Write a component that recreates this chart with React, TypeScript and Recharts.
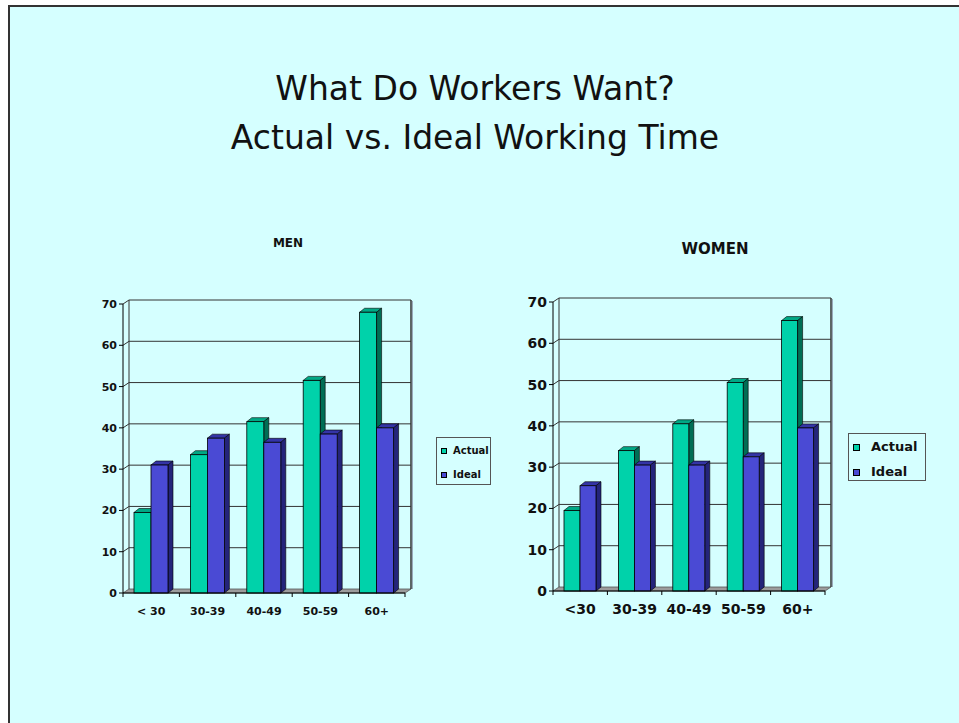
import { BarChart, Bar, XAxis, YAxis, CartesianGrid, Legend } from 'recharts';

const menCategories = ['< 30', '30-39', '40-49', '50-59', '60+'];
const menActual = [19.5, 33.5, 41.5, 51.5, 68];
const menIdeal = [31, 37.5, 36.5, 38.5, 40];

const womenCategories = ['<30', '30-39', '40-49', '50-59', '60+'];
const womenActual = [19.5, 34, 40.5, 50.5, 65.5];
const womenIdeal = [25.5, 30.5, 30.5, 32.5, 39.5];

const yTicks = [0, 10, 20, 30, 40, 50, 60, 70];
const seriesNames = ['Actual', 'Ideal'];

const FONT = '"DejaVu Sans", Verdana, sans-serif';
const BG = '#D5FFFF';
const ACTUAL = { front: '#00D2AA', top: '#00A885', side: '#006E55' };
const IDEAL = { front: '#4A4AD4', top: '#3434A6', side: '#24247A' };
const DX = 6;
const DY = 4;

const menData = menCategories.map((c, i) => ({ cat: c, Actual: menActual[i], Ideal: menIdeal[i] }));
const womenData = womenCategories.map((c, i) => ({ cat: c, Actual: womenActual[i], Ideal: womenIdeal[i] }));

function bar3D(col: { front: string; top: string; side: string }) {
  return (props: any) => {
    const { x, y, width: w, height: h } = props;
    if (!h || h <= 0) return <g />;
    const dx = 5;
    return (
      <g>
        <polygon
          points={`${x},${y} ${x + dx},${y - DY} ${x + w + dx},${y - DY} ${x + w},${y}`}
          fill={col.top}
          stroke="#000"
          strokeWidth={0.6}
        />
        <polygon
          points={`${x + w},${y} ${x + w + dx},${y - DY} ${x + w + dx},${y + h - DY} ${x + w},${y + h}`}
          fill={col.side}
          stroke="#000"
          strokeWidth={0.6}
        />
        <rect x={x} y={y} width={w} height={h} fill={col.front} stroke="#000" strokeWidth={0.8} />
      </g>
    );
  };
}

function wallLine(props: any) {
  const { x1, y1, x2, y2 } = props;
  const top = props.y;
  const bottom = props.y + props.height;
  const left = props.x;
  const right = props.x + props.width;
  if (Math.abs(y1 - bottom) < 0.5) {
    return (
      <g key={props.key}>
        <polygon
          points={`${x1},${y1} ${x2},${y2} ${x2 + DX},${y2 - DY} ${x1 + DX},${y1 - DY}`}
          fill="#9C9C9C"
          stroke="#555"
          strokeWidth={0.8}
        />
      </g>
    );
  }
  return (
    <g key={props.key}>
      <polyline
        points={`${x1},${y1} ${x1 + DX},${y1 - DY} ${x2 + DX},${y2 - DY}`}
        fill="none"
        stroke="#333"
        strokeWidth={1}
      />
      {Math.abs(y1 - top) < 0.5 && (
        <g>
          <line x1={left + DX} y1={top - DY} x2={left + DX} y2={bottom - DY} stroke="#333" strokeWidth={1} />
          <line x1={right + DX} y1={top - DY} x2={right + DX} y2={bottom - DY} stroke="#333" strokeWidth={1.5} />
          <line x1={right + DX + 1.5} y1={top - DY + 1} x2={right + DX + 1.5} y2={bottom - DY} stroke="#9AB" strokeWidth={1} />
        </g>
      )}
    </g>
  );
}

function catTick(fontSize: number, below: number, count: number) {
  return (props: any) => {
    const { x, y, payload, index, width } = props;
    const band = width / count;
    return (
      <g>
        <line x1={x - band / 2} y1={y} x2={x - band / 2} y2={y + 4} stroke="#000" />
        {index === count - 1 && <line x1={x + band / 2} y1={y} x2={x + band / 2} y2={y + 4} stroke="#000" />}
        <text x={x} y={y + below} textAnchor="middle" fontSize={fontSize} fontWeight="bold" fontFamily={FONT} fill="#111">
          {payload.value}
        </text>
      </g>
    );
  };
}

function valTick(fontSize: number) {
  return (props: any) => {
    const { x, y, payload } = props;
    return (
      <text x={x} y={y} dy="0.36em" textAnchor="end" fontSize={fontSize} fontWeight="bold" fontFamily={FONT} fill="#111">
        {payload.value}
      </text>
    );
  };
}

function legendBox(w: number, h: number, fontSize: number, sq: number, rows: number[], textX: number) {
  return () => (
    <div style={{ position: 'relative', width: w, height: h, boxSizing: 'border-box', border: '1.5px solid #555', fontFamily: FONT }}>
      {seriesNames.map((name, i) => (
        <div key={name}>
          <div
            style={{
              position: 'absolute',
              left: 4,
              top: rows[i] - sq / 2,
              width: sq,
              height: sq,
              boxSizing: 'border-box',
              border: '1px solid #000',
              background: i === 0 ? ACTUAL.front : IDEAL.front,
            }}
          />
          <div
            style={{
              position: 'absolute',
              left: textX,
              top: rows[i] - fontSize * 0.62,
              fontSize,
              fontWeight: 'bold',
              lineHeight: `${fontSize * 1.2}px`,
              color: '#111',
              whiteSpace: 'nowrap',
            }}
          >
            {name}
          </div>
        </div>
      ))}
    </div>
  );
}

interface PanelProps {
  data: any[];
  count: number;
  width: number;
  marginRight: number;
  yWidth: number;
  fontSize: number;
  below: number;
  barSize: number;
  gap: number;
  legend: () => any;
  legendPos: { left: number; top: number };
}

function Panel({ data, count, width, marginRight, yWidth, fontSize, below, barSize, gap, legend, legendPos }: PanelProps) {
  return (
    <BarChart
      width={width}
      height={335}
      data={data}
      margin={{ top: 14, right: marginRight, left: 0, bottom: 10 }}
      barGap={0}
      barCategoryGap={gap}
    >
      <CartesianGrid vertical={false} horizontal={wallLine} />
      <XAxis
        dataKey="cat"
        height={22}
        tickLine={false}
        tickSize={0}
        tickMargin={0}
        axisLine={{ stroke: '#000' }}
        tick={catTick(fontSize, below, count)}
        interval={0}
      />
      <YAxis
        width={yWidth}
        domain={[0, 70]}
        ticks={yTicks}
        interval={0}
        tickSize={4}
        tickLine={{ stroke: '#000' }}
        axisLine={{ stroke: '#000' }}
        tick={valTick(fontSize)}
      />
      <Legend layout="vertical" align="right" verticalAlign="middle" content={legend} wrapperStyle={legendPos} />
      <Bar dataKey="Actual" barSize={barSize} shape={bar3D(ACTUAL)} isAnimationActive={false} />
      <Bar dataKey="Ideal" barSize={barSize} shape={bar3D(IDEAL)} isAnimationActive={false} />
    </BarChart>
  );
}

export default function App() {
  return (
    <div style={{ position: 'absolute', left: 0, top: 0, width: 959, height: 723, background: '#fff', overflow: 'hidden', fontFamily: FONT }}>
      <div
        style={{
          position: 'absolute',
          left: 8,
          top: 5,
          width: 980,
          height: 740,
          background: BG,
          borderLeft: '2px solid #333',
          borderTop: '2px solid #333',
        }}
      />
      <div style={{ position: 'absolute', left: 0, width: 950, top: 64, textAlign: 'center', fontSize: 33, lineHeight: '49px', color: '#111' }}>
        What Do Workers Want?
        <br />
        Actual vs. Ideal Working Time
      </div>
      <div style={{ position: 'absolute', left: 238, width: 100, top: 236, textAlign: 'center', fontSize: 12, fontWeight: 'bold', color: '#111' }}>
        MEN
      </div>
      <div style={{ position: 'absolute', left: 655, width: 120, top: 240, textAlign: 'center', fontSize: 15, fontWeight: 'bold', color: '#111' }}>
        WOMEN
      </div>
      <div style={{ position: 'absolute', left: 80, top: 290 }}>
        <Panel
          data={menData}
          count={menCategories.length}
          width={420}
          marginRight={40}
          yWidth={43}
          fontSize={11}
          below={22}
          barSize={17}
          gap={12}
          legend={legendBox(55, 48, 10, 6, [13, 37], 16)}
          legendPos={{ left: 356, top: 147 }}
        />
      </div>
      <div style={{ position: 'absolute', left: 500, top: 288 }}>
        <Panel
          data={womenData}
          count={womenCategories.length}
          width={440}
          marginRight={37}
          yWidth={53}
          fontSize={14}
          below={23}
          barSize={16}
          gap={11}
          legend={legendBox(78, 48, 13, 7, [13, 38], 22)}
          legendPos={{ left: 348, top: 145 }}
        />
      </div>
    </div>
  );
}
